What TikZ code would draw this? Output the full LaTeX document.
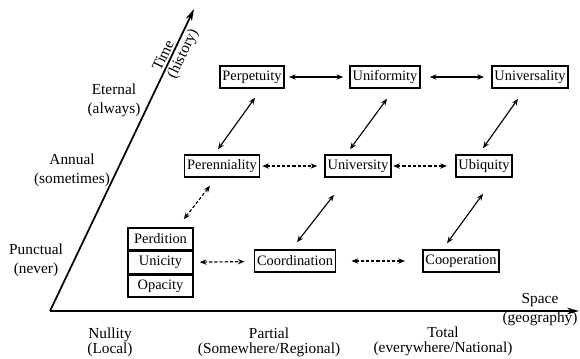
\documentclass[tikz,border=0pt]{standalone}
\usepackage{fontspec}
\setmainfont{Liberation Serif}
\usetikzlibrary{arrows.meta,positioning,calc}

\begin{document}
\begin{tikzpicture}[x=.75pt,y=-.75pt,
term/.style={draw,line width=1.2pt,minimum height=16.5pt,inner xsep=2pt,inner ysep=1pt,font=\fontsize{10.8}{12}\selectfont},
stack/.style={term,minimum width=48.75pt},
link/.style={{Stealth[length=5pt,width=4pt]}-{Stealth[length=5pt,width=4pt]},line width=.85pt},
weak/.style={link,dash pattern=on 2.4pt off 1.5pt},
axis/.style={-{Stealth[length=9pt,width=5pt]},line width=1.3pt},
lab/.style={align=center,font=\fontsize{11.5}{14.25}\selectfont,inner sep=0pt}]
\useasboundingbox (0,0) rectangle (580,358);
\coordinate (o) at (50,311);
\coordinate (t) at (194,9);
\coordinate (s) at (579,311);
\draw[axis](o)--(t) node[pos=.835,sloped,above,lab,inner sep=1.5pt]{Time} node[pos=.865,sloped,below,lab,inner sep=1.5pt]{(history)};
\draw[axis](o)--(s);
\node[lab](sp) at (540,310){Space\\(geography)};
\node[lab](et) at (114,100){Eternal\\(always)};
\node[lab](an) at (72,170){Annual\\(sometimes)};
\node[lab](pu) at (36,260){Punctual\\(never)};
\node[lab](nu) at (110,342){Nullity\\[-3pt](Local)};
\node[lab](pa) at (269,342){Partial\\[-3pt](Somewhere/Regional)};
\node[lab](to) at (443,341){Total\\[-3pt](everywhere/National)};
\node[term](pp) at (252,77){Perpetuity};
\node[term](uf) at (385,77){Uniformity};
\node[term](ul) at (530,77){Universality};
\node[term](pn) at (222,166){Perenniality};
\node[term](uv) at (358,166){University};
\node[term](ub) at (484,166){Ubiquity};
\node[stack](pd) at (160.5,239){Perdition};
\node[stack,below=0pt of pd](un){Unicity};
\node[stack,below=0pt of un](op){Opacity};
\node[term](co) at (295,261){Coordination};
\node[term](cp) at (461,261){Cooperation};
\draw[link,shorten <=3pt,shorten >=4.5pt](pp)--(uf);\draw[link,shorten <=6.75pt,shorten >=5.25pt](uf)--(ul);
\draw[weak,shorten <=1.5pt,shorten >=5.25pt](pn)--(uv);\draw[weak,shorten <=1pt,shorten >=6pt](uv)--(ub);
\draw[weak,shorten <=4.5pt,shorten >=6.75pt](un)--(co);\draw[weak,shorten <=11.25pt,shorten >=12.75pt](co)--(cp);
\draw[link]($(pp.south)+(3,9)$)--($(pn.north)+(-4,-5)$);
\draw[link]($(uf.south)+(2,10)$)--($(uv.north)+(-8,-5)$);
\draw[link]($(ul.south)+(-12,10)$)--($(ub.north)+(-1,-6)$);
\draw[weak]($(pn.south)+(-12,8)$)--($(pd.north east)+(-10,-8)$);
\draw[link]($(uv.south)+(-24,17)$)--($(co.north)+(2,-7)$);
\draw[link]($(ub.south)+(-1,16)$)--($(cp.north)+(-14,-6)$);
\end{tikzpicture}
\end{document}
